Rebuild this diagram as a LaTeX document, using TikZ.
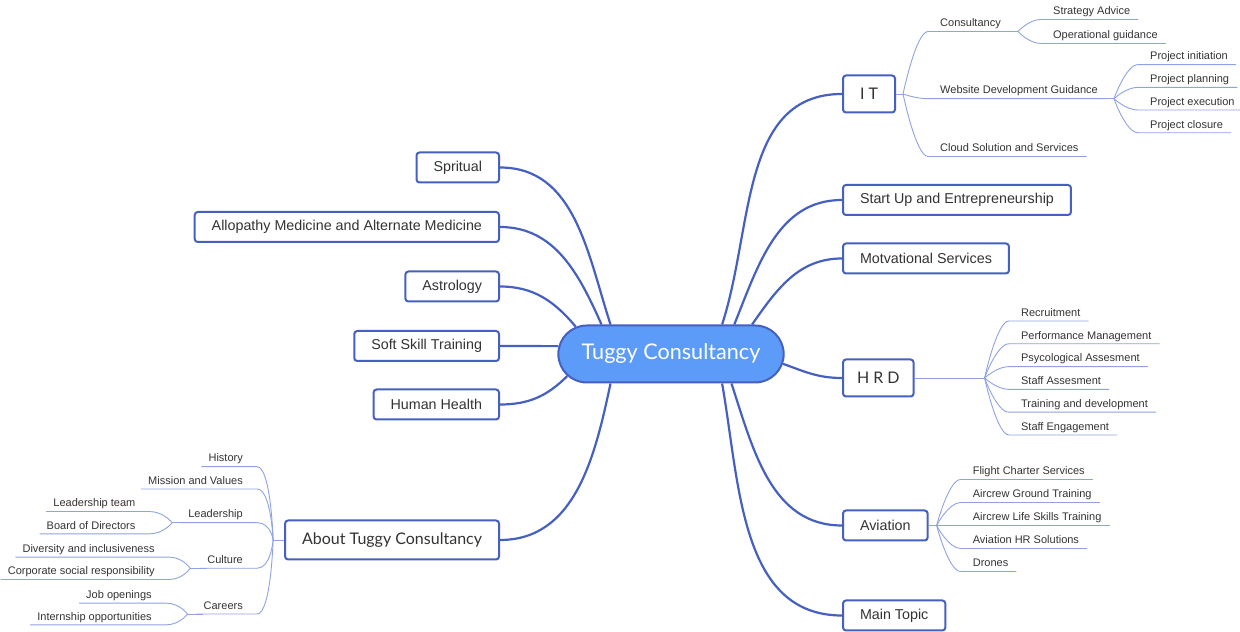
\documentclass[tikz,border=0pt]{standalone}
\usepackage{fontspec}
\setmainfont{Liberation Sans}
\newfontfamily\topicfont{Lato}
\usetikzlibrary{shapes.misc}
\definecolor{mapblue}{HTML}{4560C0}
\definecolor{rootfill}{HTML}{5C9CF8}
\definecolor{twigblue}{HTML}{8FA2E2}
\definecolor{ink}{HTML}{333333}
\tikzset{
  root/.style={rounded rectangle, draw=mapblue, line width=2pt, fill=rootfill, text=white,
    font=\topicfont\fontsize{21.6}{25}\selectfont, minimum width=232pt, minimum height=57pt},
  topic/.style={rectangle, rounded corners=3pt, draw=mapblue, line width=2pt, fill=white, text=ink,
    font=\fontsize{14.3}{17}\selectfont, inner xsep=17pt, minimum height=30pt},
  bigtopic/.style={topic, font=\topicfont\fontsize{16}{19}\selectfont, minimum height=37pt},
  trunk/.style={draw=mapblue, line width=2.2pt},
  leaf/.style={text=ink, font=\fontsize{11}{13}\selectfont, inner xsep=0pt, inner ysep=2pt,
    text height=8pt, text depth=2.5pt},
  twigline/.style={draw=twigblue, line width=0.9pt},
  twig west/.style={twigline, to path={.. controls (\tikztostart) and +(14pt,0pt) ..
    ([xshift=14pt]\tikztotarget.south east) -- ([xshift=-7pt]\tikztotarget.south west)}},
  branch east/.style={grow'=east, every child node/.style={leaf, anchor=south west},
    edge from parent/.style={twigline},
    edge from parent path={(\tikzparentnode) .. controls (\tikzparentnode) and +(-12pt,0pt) ..
      ([xshift=-12pt]\tikzchildnode.south west) -- ([xshift=8pt]\tikzchildnode.south east)}},
  branch west/.style={grow=west, every child node/.style={leaf, anchor=south east},
    edge from parent/.style={twigline},
    edge from parent path={(\tikzparentnode) .. controls (\tikzparentnode) and +(14pt,0pt) ..
      ([xshift=14pt]\tikzchildnode.south east) -- ([xshift=-7pt]\tikzchildnode.south west)}}
}
\begin{document}
\begin{tikzpicture}[x=1pt, y=1pt]
  \useasboundingbox (0,0) rectangle (1240,632);

  \node[root] (root) at (671,278) {Tuggy Consultancy};

  % right side topics
  \node[bigtopic, anchor=west] (it) at (842,538) {I T};
  \node[topic, anchor=west] (startup) at (842,432) {Start Up and Entrepreneurship};
  \node[topic, anchor=west] (motiv) at (842,373.5) {Motvational Services};
  \node[bigtopic, anchor=west, inner xsep=14pt] (hrd) at (842,254) {H R D};
  \node[topic, anchor=west] (aviation) at (842,106.5) {Aviation};
  \node[topic, anchor=west] (maintopic) at (842,16.5) {Main Topic};

  % left side topics
  \node[topic, anchor=east] (spiritual) at (500,464.5) {Spritual};
  \node[topic, anchor=east] (medicine) at (500,405) {Allopathy Medicine and Alternate Medicine};
  \node[topic, anchor=east] (astrology) at (500,345.5) {Astrology};
  \node[topic, anchor=east] (softskill) at (500,286) {Soft Skill Training};
  \node[topic, anchor=east] (health) at (500,227.5) {Human Health};
  \node[bigtopic, anchor=east, minimum height=39pt] (about) at (500,92) {About Tuggy Consultancy};

  \draw[trunk] (root.30) to[out=72,in=180] (it.west);
  \draw[trunk] (root.25) to[out=68,in=180] (startup.west);
  \draw[trunk] (root.20) to[out=55,in=180] (motiv.west);
  \draw[trunk] (root.-5) to[out=-20,in=180] (hrd.west);
  \draw[trunk] (root.-26) to[out=-72,in=180] (aviation.west);
  \draw[trunk] (root.-30) to[out=-80,in=180] (maintopic.west);
  \draw[trunk] (root.154) to[out=108,in=0] (spiritual.east);
  \draw[trunk] (root.157) to[out=114,in=0] (medicine.east);
  \draw[trunk] (root.164) to[out=130,in=0] (astrology.east);
  \draw[trunk] (root.176) to[out=180,in=0] (softskill.east);
  \draw[trunk] (root.192) to[out=225,in=0] (health.east);
  \draw[trunk] (root.206) to[out=258,in=0] (about.east);

  % I T
  \draw[twigline] (it.east) -- ++(7,0) coordinate (itb);
  \node[coordinate] at (itb) {} [branch east, level distance=37pt, sibling distance=62.5pt]
    child {node (consult) {Consultancy}}
    child {node[yshift=-4.7pt] (webdev) {Website Development Guidance}}
    child {node (cloud) {Cloud Solution and Services}};
  \draw[twigline] (consult.south east) -- ++(17,0) coordinate (consultb);
  \node[coordinate] at (consultb) {} [branch east, level distance=35pt, sibling distance=24pt]
    child {node (strategy) {Strategy Advice}}
    child {node (operation) {Operational guidance}};
  \draw[twigline] (webdev.south east) -- ++(16,0) coordinate (webdevb);
  \node[coordinate] at (webdevb) {} [branch east, level distance=36pt, sibling distance=22.7pt]
    child {node (initiation) {Project initiation}}
    child {node (planning) {Project planning}}
    child {node (execution) {Project execution}}
    child {node (closure) {Project closure}};

  % H R D
  \draw[twigline] (hrd.east) -- ++(70,0) coordinate (hrdb);
  \node[coordinate] at (hrdb) {} [branch east, level distance=36.3pt, sibling distance=22.8pt]
    child {node (recruit) {Recruitment}}
    child {node (perform) {Performance Management}}
    child {node (psych) {Psycological Assesment}}
    child {node (staffass) {Staff Assesment}}
    child {node (training) {Training and development}}
    child {node (engage) {Staff Engagement}};

  % Aviation
  \draw[twigline] (aviation.east) -- ++(8,0) coordinate (aviationb);
  \node[coordinate] at (aviationb) {} [branch east, level distance=36pt, sibling distance=23pt]
    child {node (charter) {Flight Charter Services}}
    child {node (ground) {Aircrew Ground Training}}
    child {node (lifeskill) {Aircrew Life Skills Training}}
    child {node (hrsol) {Aviation HR Solutions}}
    child {node (drones) {Drones}};

  % About Tuggy Consultancy
  \draw[twigline] (about.west) -- ++(-11,0) coordinate (aboutb);
  \node[leaf, anchor=south east] (history) at (243,165.3) {History};
  \node[leaf, anchor=south east] (mission) at (243,143) {Mission and Values};
  \node[leaf, anchor=south east] (leader) at (243,109.3) {Leadership};
  \node[leaf, anchor=south east] (culture) at (243,63.7) {Culture};
  \node[leaf, anchor=south east] (careers) at (243,18) {Careers};
  \foreach \n in {history,mission,leader,culture,careers}
    \draw[twig west] (aboutb) to (\n);

  \draw[twigline] (leader.south west) -- ++(-16,0) coordinate (leaderb);
  \node[coordinate] at (leaderb) {} [branch west, level distance=36.6pt, sibling distance=22.3pt]
    child {node (team) {Leadership team}}
    child {node (board) {Board of Directors}};
  \draw[twigline] (culture.south west) -- ++(-17,0) coordinate (cultureb);
  \node[coordinate] at (cultureb) {} [branch west, level distance=35.3pt, sibling distance=22.4pt]
    child {node (diversity) {Diversity and inclusiveness}}
    child {node (csr) {Corporate social responsibility}};
  \draw[twigline] (careers.south west) -- ++(-16,0) coordinate (careersb);
  \node[coordinate] at (careersb) {} [branch west, level distance=35.6pt, sibling distance=21.7pt]
    child {node (jobs) {Job openings}}
    child {node (intern) {Internship opportunities}};
\end{tikzpicture}
\end{document}
